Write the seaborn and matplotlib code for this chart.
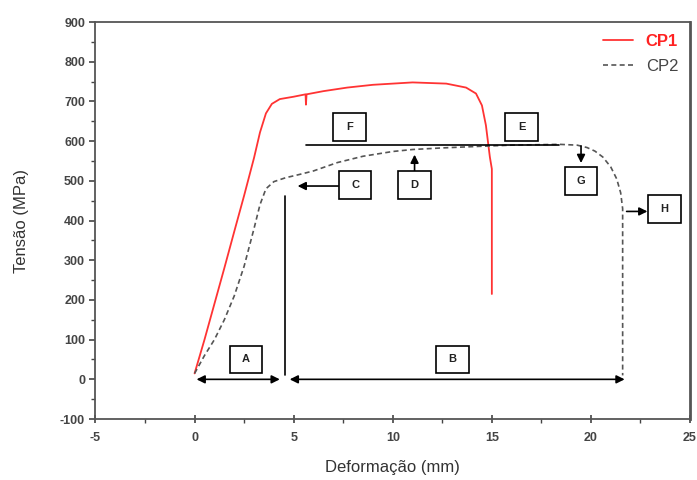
import numpy as np
import pandas as pd
import matplotlib
matplotlib.use("Agg")
import matplotlib.pyplot as plt
import matplotlib.patches as mpatches
from matplotlib.ticker import MultipleLocator
import seaborn as sns

# ── data ──────────────────────────────────────────────────────────────────────
cp1_x = [0, 0.5, 1.0, 1.5, 2.0, 2.5, 3.0, 3.3, 3.6, 3.9, 4.3, 5.0, 5.6, 5.62,
         5.65, 6.5, 7.7, 9.0, 11.0, 12.7, 13.7, 14.2, 14.5, 14.7, 14.9, 15.0,
         15.0]
cp1_y = [15, 100, 190, 280, 372, 463, 558, 622, 670, 694, 706, 712, 718, 692,
         718, 726, 735, 742, 748, 745, 735, 720, 690, 640, 560, 530, 215]

cp2_x = [0, 0.5, 1.0, 1.5, 2.0, 2.5, 3.0, 3.3, 3.6, 4.0, 4.6, 5.2, 6.0, 7.2,
         8.5, 10.0, 11.0, 12.5, 14.4, 16.0, 18.4, 19.3, 19.8, 20.2, 20.6, 21.0,
         21.3, 21.5, 21.6, 21.6]
cp2_y = [15, 60, 100, 150, 210, 285, 380, 440, 480, 498, 508, 515, 525, 546,
         562, 574, 579, 583, 587, 590, 592, 590, 584, 575, 560, 535, 505, 470,
         430, 10]

# annotation labels: (letter, box centre x, box centre y)
box_labels = [("A", 2.6, 50), ("B", 13.0, 50), ("C", 8.1, 490), ("D", 11.1, 490),
              ("E", 16.5, 635), ("F", 7.8, 635), ("G", 19.5, 500), ("H", 23.7, 430)]

df1 = pd.DataFrame({"x": cp1_x, "y": cp1_y})
df2 = pd.DataFrame({"x": cp2_x, "y": cp2_y})

sns.set_theme(style="ticks")
plt.rcParams["font.family"] = ["Liberation Sans", "DejaVu Sans"]
plt.rcParams["axes.unicode_minus"] = False

fig = plt.figure(figsize=(6.97, 4.80), dpi=100)
ax = fig.add_axes([0.137, 0.127, 0.853, 0.827])

sns.lineplot(data=df1, x="x", y="y", sort=False, estimator=None, ax=ax,
             color="#ff3333", linewidth=1.3, label="CP1")
sns.lineplot(data=df2, x="x", y="y", sort=False, estimator=None, ax=ax,
             color="#555555", linewidth=1.2, linestyle=(0, (3, 2)), label="CP2")

# horizontal reference line and vertical marker
ax.plot([5.6, 18.4], [590, 590], color="black", lw=1.2)
ax.plot([4.55, 4.55], [12, 461], color="black", lw=1.2)

# arrows
arrow = dict(arrowstyle="-|>", color="black", lw=1.2, mutation_scale=12,
             shrinkA=0, shrinkB=0)
darrow = dict(arrowstyle="<|-|>", color="black", lw=1.2, mutation_scale=12,
              shrinkA=0, shrinkB=0)
ax.annotate("", xy=(0.1, 0), xytext=(4.3, 0), arrowprops=darrow)
ax.annotate("", xy=(4.8, 0), xytext=(21.7, 0), arrowprops=darrow)
ax.annotate("", xy=(5.2, 487), xytext=(7.25, 487), arrowprops=arrow)
ax.annotate("", xy=(11.1, 566), xytext=(11.1, 525), arrowprops=arrow)
ax.annotate("", xy=(19.5, 545), xytext=(19.5, 588), arrowprops=arrow)
ax.annotate("", xy=(22.85, 423), xytext=(21.8, 423), arrowprops=arrow)

bw, bh = 1.65, 70
for letter, cx, cy in box_labels:
    ax.add_patch(mpatches.Rectangle((cx - bw / 2, cy - bh / 2), bw, bh,
                                    facecolor="white", edgecolor="black",
                                    lw=1.2, zorder=4))
    ax.text(cx, cy, letter, ha="center", va="center", fontsize=8,
            fontweight="bold", color="#222222", zorder=5)

ax.set_xlim(-5, 25)
ax.set_ylim(-100, 900)
ax.xaxis.set_major_locator(MultipleLocator(5))
ax.xaxis.set_minor_locator(MultipleLocator(2.5))
ax.yaxis.set_major_locator(MultipleLocator(100))
ax.yaxis.set_minor_locator(MultipleLocator(50))
ax.tick_params(axis="both", which="major", labelsize=9, labelcolor="#444444",
               color="#444444", length=4, width=1.2)
ax.tick_params(axis="both", which="minor", color="#444444", length=3, width=1.0)
ax.tick_params(axis="x", which="major", direction="inout", length=6, pad=6)
for lbl in ax.get_xticklabels() + ax.get_yticklabels():
    lbl.set_fontweight("bold")

for side in ["left", "bottom", "top", "right"]:
    ax.spines[side].set_visible(True)
    ax.spines[side].set_color("#555555")
    ax.spines[side].set_linewidth(1.3)
ax.spines["right"].set_linewidth(2.0)

ax.set_xlabel("Deformação (mm)", fontsize=12, color="#333333", labelpad=12)
ax.set_ylabel("Tensão (MPa)", fontsize=12, color="#333333", labelpad=22)

leg = ax.legend(loc="upper right", frameon=False, fontsize=12, handlelength=1.8,
                borderaxespad=0.3, labelspacing=0.6)
leg.get_texts()[0].set_color("#ff2222")
leg.get_texts()[0].set_fontweight("bold")
leg.get_texts()[1].set_color("#444444")

plt.savefig("out.png", dpi=100)
plt.close()
